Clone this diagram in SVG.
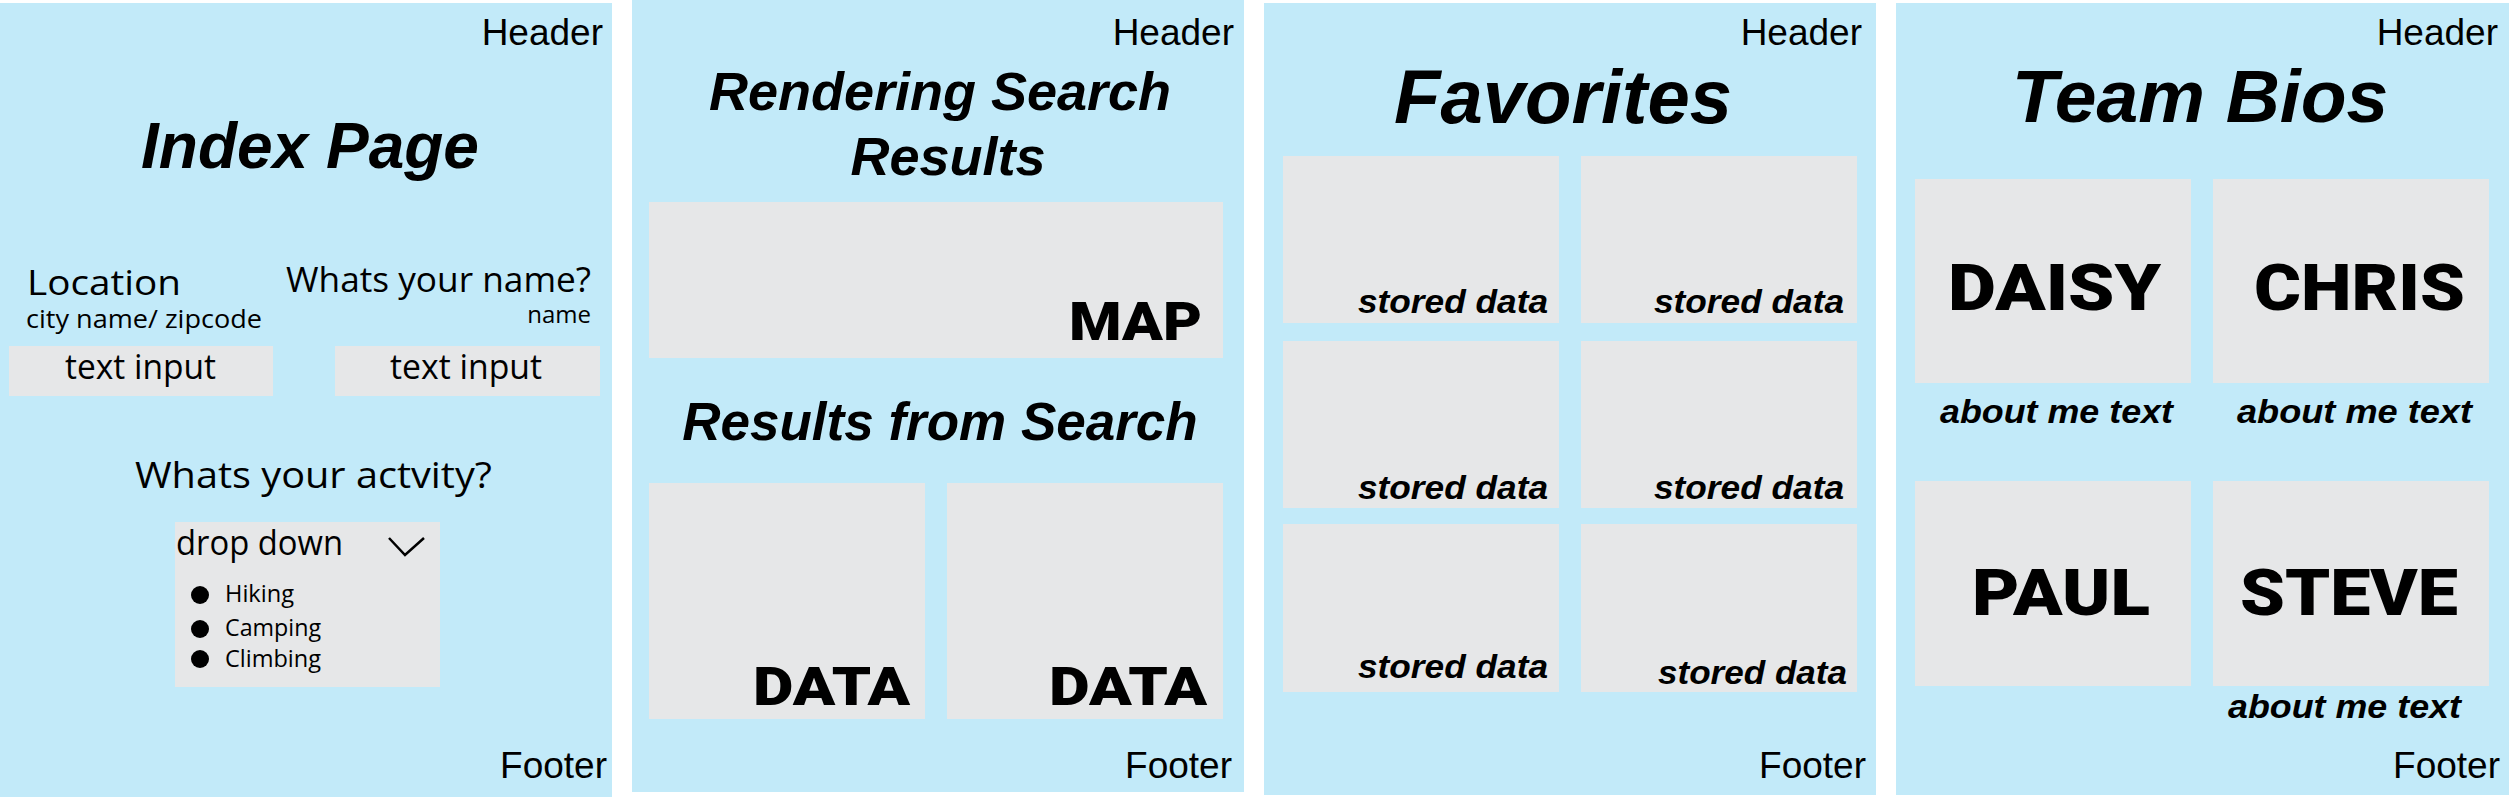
<svg xmlns="http://www.w3.org/2000/svg" width="2509" height="797" viewBox="0 0 2509 797">
<style>
.panel{fill:#C2EAF9}
.box{fill:#E6E7E8}
text{fill:#000}
.hf{font-family:'Liberation Sans',Arial,sans-serif;font-size:37px;text-anchor:end}
.title{font-family:'Liberation Sans',Arial,sans-serif;font-weight:bold;font-style:italic;text-anchor:middle}
.heavy{font-family:Roboto,Lato,Inter,'Liberation Sans',sans-serif;font-weight:900}
.my{font-family:'Open Sans','Noto Sans',sans-serif}
.sd{font-family:'Liberation Sans',Arial,sans-serif;font-weight:bold;font-style:italic;font-size:33px}
</style>
<rect width="2509" height="797" fill="#fff"/>
<g id="index-page">
<rect class="panel" x="0" y="3" width="612" height="794"/>
<text class="hf" x="603" y="45">Header</text>
<text class="title" x="310" y="168" font-size="64">Index Page</text>
<text class="my" x="27" y="295" font-size="35" textLength="154" lengthAdjust="spacingAndGlyphs">Location</text>
<text class="my" x="26" y="328" font-size="25" textLength="236" lengthAdjust="spacingAndGlyphs">city name/ zipcode</text>
<text class="my" x="286" y="292" font-size="35" textLength="305" lengthAdjust="spacingAndGlyphs">Whats your name?</text>
<text class="my" x="591" y="323" font-size="24" text-anchor="end">name</text>
<rect class="box" x="9" y="346" width="264" height="50"/>
<rect class="box" x="335" y="346" width="265" height="50"/>
<text class="my" x="65" y="379" font-size="34" textLength="151" lengthAdjust="spacingAndGlyphs">text input</text>
<text class="my" x="390" y="379" font-size="34" textLength="152" lengthAdjust="spacingAndGlyphs">text input</text>
<text class="my" x="135" y="488" font-size="37" textLength="357" lengthAdjust="spacingAndGlyphs">Whats your actvity?</text>
<rect class="box" x="175" y="522" width="265" height="165"/>
<text class="my" x="176" y="555" font-size="34" textLength="167" lengthAdjust="spacingAndGlyphs">drop down</text>
<polyline points="389,538 405,555 424,538" fill="none" stroke="#000" stroke-width="2.5"/>
<circle cx="200" cy="595" r="9"/>
<circle cx="200" cy="629" r="9"/>
<circle cx="200" cy="659" r="9"/>
<text class="my" x="225" y="602" font-size="24" textLength="69" lengthAdjust="spacingAndGlyphs">Hiking</text>
<text class="my" x="225" y="636" font-size="24" textLength="96" lengthAdjust="spacingAndGlyphs">Camping</text>
<text class="my" x="225" y="667" font-size="24" textLength="96" lengthAdjust="spacingAndGlyphs">Climbing</text>
<text class="hf" x="607" y="778">Footer</text>
</g>
<g id="search-results">
<rect class="panel" x="632" y="0" width="612" height="792"/>
<text class="hf" x="1234" y="45">Header</text>
<text class="title" x="940" y="110" font-size="54">Rendering Search</text>
<text class="title" x="948" y="175" font-size="54">Results</text>
<rect class="box" x="649" y="202" width="574" height="156"/>
<text class="heavy" x="1069" y="340" font-size="53" textLength="133" lengthAdjust="spacingAndGlyphs">MAP</text>
<text class="title" x="940" y="440" font-size="53">Results from Search</text>
<rect class="box" x="649" y="483" width="276" height="236"/>
<rect class="box" x="947" y="483" width="276" height="236"/>
<text class="heavy" x="753" y="705" font-size="53" textLength="157" lengthAdjust="spacingAndGlyphs">DATA</text>
<text class="heavy" x="1049" y="705" font-size="53" textLength="158" lengthAdjust="spacingAndGlyphs">DATA</text>
<text class="hf" x="1232" y="778">Footer</text>
</g>
<g id="favorites">
<rect class="panel" x="1264" y="3" width="612" height="792"/>
<text class="hf" x="1862" y="45">Header</text>
<text class="title" x="1563" y="123" font-size="76">Favorites</text>
<rect class="box" x="1283" y="156" width="276" height="167"/>
<rect class="box" x="1581" y="156" width="276" height="167"/>
<rect class="box" x="1283" y="341" width="276" height="167"/>
<rect class="box" x="1581" y="341" width="276" height="167"/>
<rect class="box" x="1283" y="524" width="276" height="168"/>
<rect class="box" x="1581" y="524" width="276" height="168"/>
<text class="sd" x="1358" y="313" textLength="190" lengthAdjust="spacingAndGlyphs">stored data</text>
<text class="sd" x="1654" y="313" textLength="190" lengthAdjust="spacingAndGlyphs">stored data</text>
<text class="sd" x="1358" y="499" textLength="190" lengthAdjust="spacingAndGlyphs">stored data</text>
<text class="sd" x="1654" y="499" textLength="190" lengthAdjust="spacingAndGlyphs">stored data</text>
<text class="sd" x="1358" y="678" textLength="190" lengthAdjust="spacingAndGlyphs">stored data</text>
<text class="sd" x="1658" y="684" textLength="189" lengthAdjust="spacingAndGlyphs">stored data</text>
<text class="hf" x="1866" y="778">Footer</text>
</g>
<g id="team-bios">
<rect class="panel" x="1896" y="3" width="613" height="792"/>
<text class="hf" x="2498" y="45">Header</text>
<text class="title" x="2200" y="122" font-size="75">Team Bios</text>
<rect class="box" x="1915" y="179" width="276" height="204"/>
<rect class="box" x="2213" y="179" width="276" height="204"/>
<rect class="box" x="1915" y="481" width="276" height="205"/>
<rect class="box" x="2213" y="481" width="276" height="205"/>
<text class="heavy" x="1948" y="310" font-size="65" textLength="213" lengthAdjust="spacingAndGlyphs">DAISY</text>
<text class="heavy" x="2254" y="310" font-size="65" textLength="211" lengthAdjust="spacingAndGlyphs">CHRIS</text>
<text class="sd" x="1940" y="423" textLength="233" lengthAdjust="spacingAndGlyphs">about me text</text>
<text class="sd" x="2237" y="423" textLength="235" lengthAdjust="spacingAndGlyphs">about me text</text>
<text class="heavy" x="1972" y="615" font-size="65" textLength="178" lengthAdjust="spacingAndGlyphs">PAUL</text>
<text class="heavy" x="2240" y="615" font-size="65" textLength="218" lengthAdjust="spacingAndGlyphs">STEVE</text>
<text class="sd" x="2228" y="718" textLength="233" lengthAdjust="spacingAndGlyphs">about me text</text>
<text class="hf" x="2500" y="778">Footer</text>
</g>
</svg>
